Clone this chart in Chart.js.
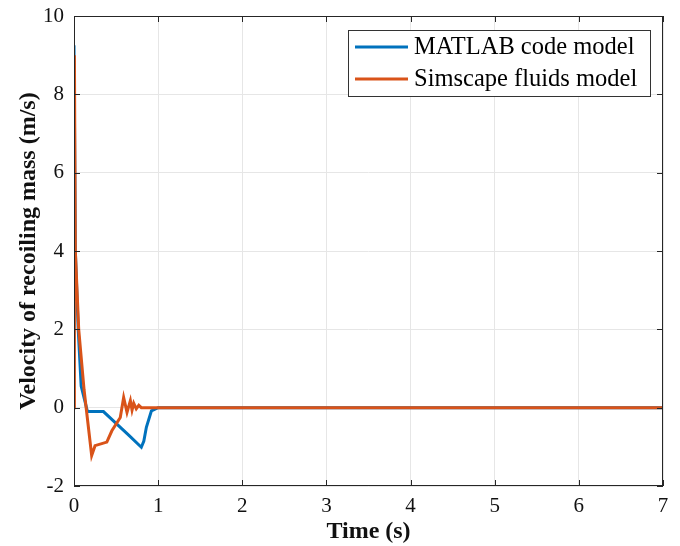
<!DOCTYPE html>
<html>
<head>
<meta charset="utf-8">
<script src="https://cdn.jsdelivr.net/npm/chart.js@4/dist/chart.umd.min.js"></script>
<style>
  html, body { margin: 0; padding: 0; background: #fff; }
  #wrap { width: 680px; height: 546px; position: relative; }
</style>
</head>
<body>
<div id="wrap"><canvas id="velChart" width="680" height="546"></canvas></div>
<script>
// values
const seriesNames = ['MATLAB code model', 'Simscape fluids model'];
const seriesColors = ['#0072BD', '#D95319'];

const timeMatlab = [0, 0.016, 0.05, 0.085, 0.16, 0.35, 0.5, 0.65, 0.8, 0.83, 0.86, 0.92, 1.0, 1.1, 7];
const velMatlab  = [9.25, 4.0, 2.0, 0.55, -0.1, -0.1, -0.4, -0.7, -1.01, -0.85, -0.5, -0.08, 0, 0, 0];

const timeSimscape = [0, 0.005, 0.016, 0.056, 0.12, 0.21, 0.25, 0.39, 0.45, 0.55, 0.59, 0.63, 0.67, 0.69, 0.71, 0.74, 0.77, 0.8, 7];
const velSimscape  = [0, 9.0, 4.0, 2.0, 0.45, -1.22, -0.97, -0.88, -0.59, -0.25, 0.26, -0.12, 0.18, -0.06, 0.11, -0.03, 0.06, 0, 0];

const xTicks = [0, 1, 2, 3, 4, 5, 6, 7];
const yTicks = [-2, 0, 2, 4, 6, 8, 10];

const serif = "'Liberation Serif', 'Times New Roman', serif";

function toPoints(xs, ys) {
    return xs.map((x, i) => ({ x: x, y: ys[i] }));
}

// MATLAB-style box, inward ticks and legend
const matlabFrame = {
    id: 'matlabFrame',
    afterDraw(chart) {
        const ctx = chart.ctx;
        const area = chart.chartArea;
        const xs = chart.scales.x;
        const ys = chart.scales.y;
        ctx.save();
        ctx.strokeStyle = '#262626';
        ctx.lineWidth = 1;
        ctx.strokeRect(area.left + 0.5, area.top + 0.5, area.right - area.left - 1, area.bottom - area.top - 1);
        ctx.beginPath();
        xTicks.forEach(v => {
            const px = Math.round(xs.getPixelForValue(v)) + 0.5;
            ctx.moveTo(px, area.bottom); ctx.lineTo(px, area.bottom - 6);
            ctx.moveTo(px, area.top); ctx.lineTo(px, area.top + 6);
        });
        yTicks.forEach(v => {
            const py = Math.round(ys.getPixelForValue(v)) + 0.5;
            ctx.moveTo(area.left, py); ctx.lineTo(area.left + 6, py);
            ctx.moveTo(area.right, py); ctx.lineTo(area.right - 6, py);
        });
        ctx.stroke();

        // legend box
        const lx = 348, ly = 30, lw = 302, lh = 66;
        ctx.fillStyle = '#fff';
        ctx.fillRect(lx, ly, lw, lh);
        ctx.strokeStyle = '#333';
        ctx.strokeRect(lx + 0.5, ly + 0.5, lw, lh);
        ctx.font = '24.5px ' + serif;
        ctx.textBaseline = 'middle';
        seriesNames.forEach((name, i) => {
            const y = ly + 17 + i * 32;
            ctx.strokeStyle = seriesColors[i];
            ctx.lineWidth = 3;
            ctx.beginPath();
            ctx.moveTo(lx + 7, y);
            ctx.lineTo(lx + 60, y);
            ctx.stroke();
            ctx.fillStyle = '#000';
            ctx.fillText(name, lx + 66, y + 1);
        });
        ctx.restore();
    }
};

new Chart(document.getElementById('velChart'), {
    type: 'line',
    data: {
        datasets: [
            {
                label: seriesNames[0],
                data: toPoints(timeMatlab, velMatlab),
                borderColor: seriesColors[0],
                borderWidth: 3,
                pointRadius: 0,
                tension: 0,
                order: 1
            },
            {
                label: seriesNames[1],
                data: toPoints(timeSimscape, velSimscape),
                borderColor: seriesColors[1],
                borderWidth: 3,
                pointRadius: 0,
                tension: 0,
                order: 0
            }
        ]
    },
    options: {
        responsive: false,
        animation: false,
        devicePixelRatio: 1,
        layout: { padding: { top: 16, right: 17, left: 14, bottom: 0 } },
        plugins: {
            legend: { display: false },
            tooltip: { enabled: false }
        },
        scales: {
            x: {
                type: 'linear',
                min: 0,
                max: 7,
                afterBuildTicks: axis => { axis.ticks = xTicks.map(v => ({ value: v })); },
                afterFit: axis => { axis.height = 60; },
                grid: { color: '#e6e6e6', drawTicks: false },
                border: { display: false },
                ticks: {
                    color: '#111',
                    padding: 8,
                    autoSkip: false,
                    maxRotation: 0,
                    font: { family: serif, size: 21 }
                },
                title: {
                    display: true,
                    text: 'Time (s)',
                    color: '#111',
                    padding: { top: 0, bottom: 0 },
                    font: { family: serif, size: 24, weight: 'bold' }
                }
            },
            y: {
                min: -2,
                max: 10,
                afterBuildTicks: axis => { axis.ticks = yTicks.map(v => ({ value: v })); },
                afterFit: axis => { axis.width = 60; axis.paddingTop = 0; axis.paddingBottom = 0; },
                grid: { color: '#e6e6e6', drawTicks: false },
                border: { display: false },
                ticks: {
                    color: '#111',
                    padding: 10,
                    autoSkip: false,
                    font: { family: serif, size: 21, lineHeight: 0.6 }
                },
                title: {
                    display: true,
                    text: 'Velocity of recoiling mass (m/s)',
                    color: '#111',
                    padding: { top: 0, bottom: 0 },
                    font: { family: serif, size: 24, weight: 'bold' }
                }
            }
        }
    },
    plugins: [matlabFrame]
});
</script>
</body>
</html>
